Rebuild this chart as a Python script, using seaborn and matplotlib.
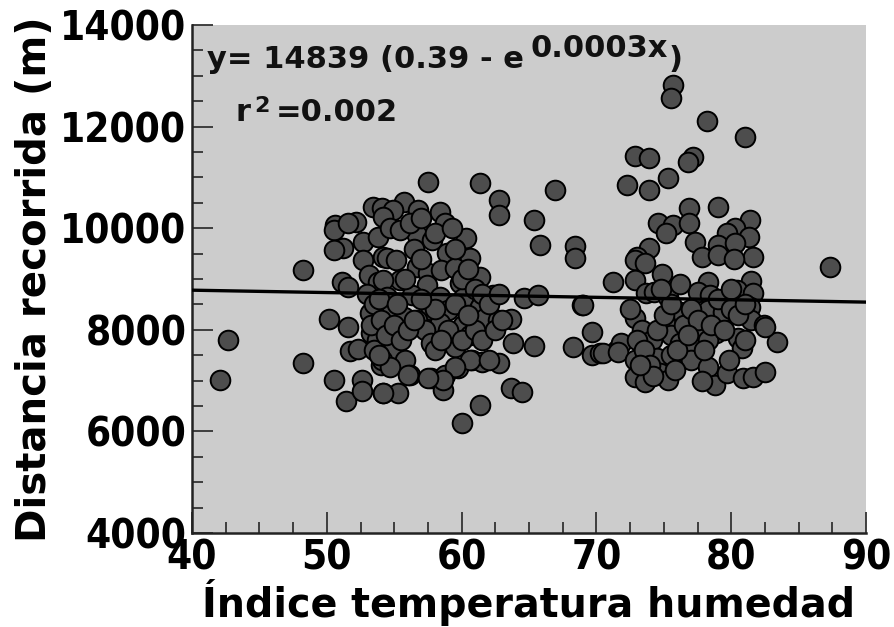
import matplotlib
matplotlib.use("Agg")
import matplotlib.pyplot as plt
from matplotlib.ticker import MultipleLocator
import seaborn as sns
import pandas as pd

# ---- data ----
thi = [
    42.1, 42.7, 48.2, 48.2, 50.2, 51.6, 50.5, 51.4, 52.6, 52.6, 51.7, 52.3, 54.2, 51.1, 51.6,
    50.6, 50.5, 51.2, 50.5, 52.2, 51.6, 53.4, 54.1, 52.7, 52.7, 53.1, 53.8, 53.2, 53.3, 53.7,
    54.0, 53.8, 54.2,
    55.7, 56.8, 58.4, 58.8, 56.7, 57.8, 60.3, 58.9, 60.6, 54.9, 54.2, 54.7, 55.4, 54.5, 55.1,
    56.7, 57.5, 58.5, 59.5, 61.4, 59.9, 55.4, 54.2, 57.4, 56.3, 54.5, 62.3, 60.1, 58.4, 61.4,
    59.0, 57.7, 54.5, 55.7, 56.7, 58.4, 60.1, 61.7, 62.7, 54.7, 57.3, 59.1, 60.6, 57.7, 59.5,
    54.9, 55.8, 58.0, 54.1, 54.7, 56.2, 57.7, 58.8, 59.7, 60.8, 61.5, 58.6, 55.3, 54.2,
    57.5, 61.4, 62.8, 62.8, 65.4, 65.8, 66.9, 64.6, 65.7, 63.7, 63.8, 65.4, 62.8, 63.7, 64.5,
    61.4, 60.0, 60.6, 59.5, 58.6, 57.5, 56.0,
    53.0, 53.5, 53.9, 53.3, 54.0, 53.5, 53.9, 54.4, 55.0, 55.5, 56.0, 55.2, 55.8, 56.5, 57.0,
    56.2, 57.0, 58.0, 59.3, 59.5, 60.0, 60.5, 61.0, 61.5, 62.0, 59.0, 58.5, 60.0, 61.0, 61.5,
    62.5, 62.0, 58.0, 57.0, 56.5, 59.5, 60.5, 62.8, 63.0,
    68.4, 68.4, 68.9, 68.3, 69.7, 69.7, 70.3, 71.5,
    75.7, 75.5, 78.2, 81.0, 72.9, 73.9, 77.2, 76.8, 75.3, 72.3, 73.9, 76.9, 79.0, 74.6, 75.7,
    75.2, 76.9, 81.4, 80.3, 79.7, 81.3, 77.3, 79.0, 80.3, 73.9, 73.0, 77.8, 81.6,
    72.9, 73.6, 79.0, 71.2, 72.9, 74.9, 78.3, 81.5, 80.4, 81.6, 73.7, 74.3, 75.3, 77.5, 78.4,
    69.0, 76.2, 78.3, 79.4, 81.4, 72.9, 75.1, 77.3, 81.5, 82.4, 73.4, 75.5, 78.9, 80.5, 83.4,
    71.8, 74.1, 76.2, 77.2, 78.3, 80.8, 70.5, 71.6, 72.9, 74.5, 75.5, 77.0, 72.9, 73.6, 74.7,
    75.3, 78.3, 78.8, 79.7, 80.9, 81.6, 82.5, 82.5,
    72.5, 73.0, 73.5, 74.0, 74.5, 75.0, 75.5, 76.0, 76.5, 77.0, 77.5, 78.0, 78.5, 79.0, 79.5,
    80.0, 80.5, 81.0, 81.0, 79.8, 76.8, 74.2, 73.2, 75.8, 77.8, 74.8, 76.2, 80.0, 80.2,
    87.3,
]
distance = [
    7010, 7800, 9180, 7345, 8210, 8055, 7010, 6600, 7010, 6790, 7580, 7620, 6760, 8940, 8840,
    10060, 9960, 9610, 9570, 10120, 10100, 10420, 10400, 9730, 9370, 9080, 8940, 8330, 7940, 7800,
    7310, 9830, 9430,
    10520, 10360, 10320, 10100, 9870, 9770, 9810, 9510, 9410, 10360, 10220, 10000, 9960, 9410, 9370,
    9240, 9120, 9180, 9220, 9040, 8920, 8980, 8980, 8880, 8680, 8650, 8680, 8630, 8650, 8450,
    8390, 8390, 8430, 8250, 8190, 8130, 8090, 8230, 8190, 7940, 8000, 7860, 7900, 7740, 7660,
    7600, 7400, 7600, 7400, 7270, 7110, 7050, 7110, 7250, 7400, 7370, 6815, 6760, 6760,
    10910, 10890, 10555, 10260, 10160, 9670, 10750, 8620, 8680, 8210, 7740, 7680, 7350, 6855, 6780,
    6520, 6165, 7405, 7270, 7010, 7050, 7110,
    8700, 8500, 8600, 8100, 8200, 7600, 7500, 7900, 8100, 7800, 8000, 8500, 9000, 9600, 9400,
    10100, 10200, 9900, 10000, 9600, 9000, 9200, 8800, 8700, 8500, 8000, 7800, 7800, 8000, 7800,
    8000, 7400, 8400, 8600, 8200, 8500, 8300, 8700, 8200,
    9640, 9420, 8490, 7660, 7960, 7510, 7550, 7600,
    12820, 12560, 12110, 11800, 11420, 11380, 11400, 11300, 10990, 10850, 10750, 10400, 10420, 10100, 10060,
    9900, 10100, 10160, 10000, 9900, 9830, 9730, 9670, 9710, 9610, 9430, 9430, 9430,
    9370, 9310, 9470, 8940, 8980, 9100, 8940, 8960, 8780, 8720, 8720, 8740, 8650, 8740, 8690,
    8490, 8350, 8390, 8350, 8450, 8230, 8150, 8060, 8190, 8090, 8000, 7900, 7940, 7840, 7760,
    7740, 7800, 7740, 7640, 7800, 7640, 7540, 7560, 7410, 7440, 7510, 7410, 7070, 6970, 7150,
    7010, 7270, 6910, 7150, 7050, 7070, 7170, 8060,
    8400, 7800, 7600, 7300, 8000, 8300, 8500, 7600, 8100, 8400, 8200, 7600, 8100, 8600, 8000,
    8400, 8300, 8500, 7800, 7400, 7900, 7100, 7300, 7200, 7000, 8800, 8900, 8800, 9400,
    9230,
]
fit_x = [40, 90]
fit_y = [8780, 8545]

x_ticks = [40, 50, 60, 70, 80, 90]
y_ticks = [4000, 6000, 8000, 10000, 12000, 14000]
x_label = "Índice temperatura humedad"
y_label = "Distancia recorrida (m)"
eq_main = "y= 14839 (0.39 - e"
eq_exp = "0.0003x"
r2_text = ("r", "2", "=0.002")

df = pd.DataFrame({"x": thi, "y": distance})
fit = pd.DataFrame({"x": fit_x, "y": fit_y})

sns.set_style("ticks")
plt.rcParams["font.family"] = ["DejaVu Sans"]

fig = plt.figure(figsize=(8.94, 6.27), dpi=100)
ax = fig.add_axes([192 / 894, 1 - 533 / 627, 674 / 894, 508 / 627])
ax.set_facecolor("#cccccc")

sns.scatterplot(data=df, x="x", y="y", ax=ax, s=200, color="#4d4d4d",
                edgecolor="black", linewidth=1.4, zorder=3)
sns.lineplot(data=fit, x="x", y="y", ax=ax, color="black", linewidth=2.4, zorder=4)

ax.set_xlim(40, 90)
ax.set_ylim(4000, 14000)
ax.set_xticks(x_ticks)
ax.set_yticks(y_ticks)
ax.xaxis.set_minor_locator(MultipleLocator(2.5))
ax.yaxis.set_minor_locator(MultipleLocator(500))
ax.tick_params(which="major", direction="in", length=15, width=1.3, colors="#333333",
               labelcolor="black", left=True, bottom=True, top=False, right=False, pad=4)
ax.tick_params(which="minor", direction="in", length=8, width=1.3, colors="#333333",
               left=True, bottom=True, top=False, right=False)
for lab in ax.get_xticklabels() + ax.get_yticklabels():
    lab.set_fontsize(29)
    lab.set_fontweight("bold")
    lab.set_fontstretch("condensed")
    lab.set_color("black")

for side in ["top", "right"]:
    ax.spines[side].set_visible(False)
for side in ["left", "bottom"]:
    ax.spines[side].set_color("#222222")
    ax.spines[side].set_linewidth(1.8)

ax.set_xlabel(x_label, fontsize=28.5, fontweight="bold", labelpad=0, color="black")
ax.set_ylabel(y_label, fontsize=29, fontweight="bold", labelpad=4, color="black")

def afx(px):
    return (px - 192) / 674

def afy(py):
    return (533 - py) / 508

tk = dict(transform=ax.transAxes, fontweight="bold", color="#111111", zorder=5)
ax.text(afx(207), afy(68), eq_main, fontsize=22, **tk)
ax.text(afx(530), afy(57), eq_exp, fontsize=22, **tk)
ax.text(afx(669), afy(68), ")", fontsize=22, **tk)
ax.text(afx(236), afy(121), r2_text[0], fontsize=22, **tk)
ax.text(afx(254), afy(112), r2_text[1], fontsize=16, **tk)
ax.text(afx(276), afy(121), r2_text[2], fontsize=22, **tk)

fig.savefig("out.png", dpi=100)
